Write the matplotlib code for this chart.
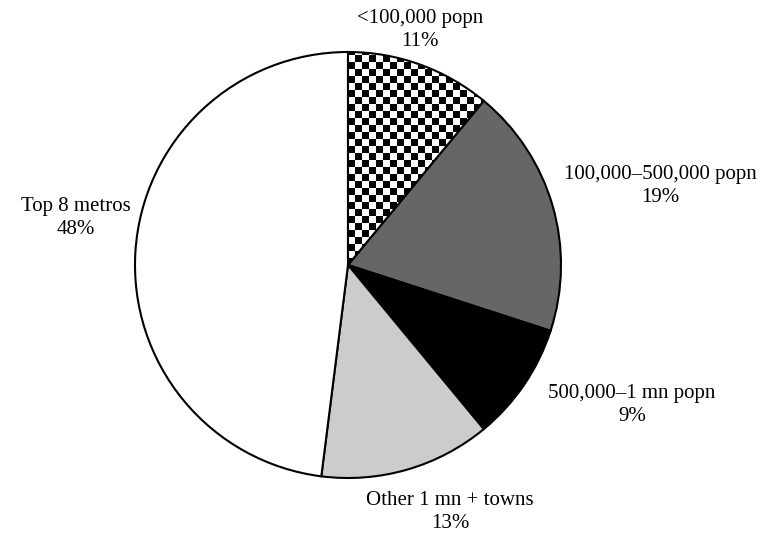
import numpy as np
import matplotlib.pyplot as plt

labels = ['<100,000 popn', '100,000\u2013500,000 popn', '500,000\u20131 mn popn',
          'Other 1 mn + towns', 'Top 8 metros']
shares = [11, 19, 9, 13, 48]
colors = ['white', '#666666', 'black', '#cccccc', 'white']

# label centres, in pixels relative to the pie centre (x right, y up)
label_xy = [(72, 235), (312, 79), (284, -140), (102, -247), (-272, 47)]

W, H = 771, 536
cx, cy, R = 348, 265, 213

fig = plt.figure(figsize=(W / 100, H / 100), dpi=100)
ax = fig.add_axes([0, 0, 1, 1])

wedges, _ = ax.pie(shares, colors=colors, startangle=90, counterclock=False,
                   radius=R, center=(0, 0),
                   wedgeprops=dict(edgecolor='black', linewidth=1.5))

# checkerboard fill for the smallest-town slice
cell = 7
n = 70
board = (np.add.outer(np.arange(n), np.arange(n)) % 2).astype(float)
img = ax.imshow(board, cmap='gray', interpolation='none',
                extent=(0, n * cell, 0, n * cell), origin='lower', zorder=1.5)
img.set_clip_path(wedges[0])
wedges[0].set_zorder(2)
wedges[0].set_facecolor('none')

for name, pct, (lx, ly) in zip(labels, shares, label_xy):
    ax.text(lx, ly, f'{name}\n{pct}%', ha='center', va='center',
            fontsize=15, family='Liberation Serif', linespacing=1.35)

ax.set_xlim(-cx, W - cx)
ax.set_ylim(-(H - cy), cy)
ax.set_aspect('equal')
ax.axis('off')

fig.savefig('out.png', dpi=100)
